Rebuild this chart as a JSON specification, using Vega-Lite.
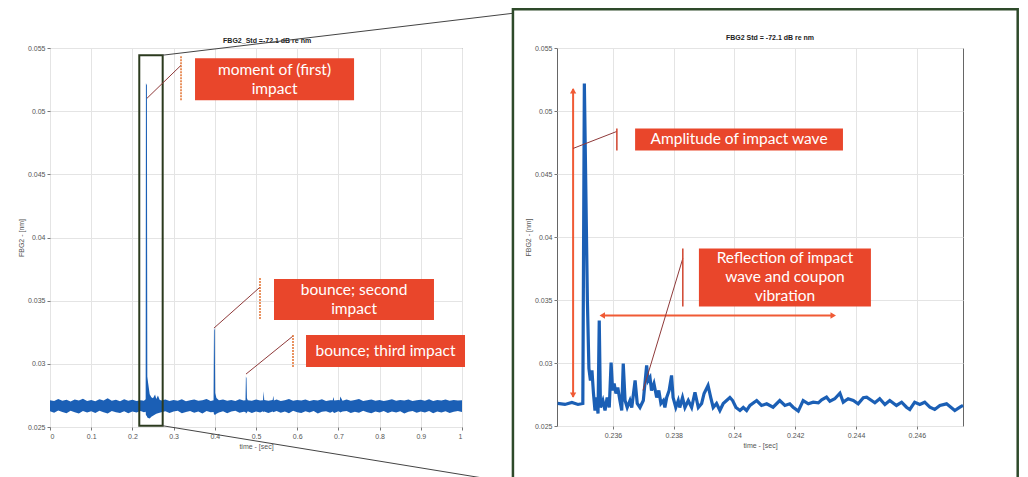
{
  "$schema": "https://vega.github.io/schema/vega-lite/v6.json",
  "background": "white",
  "padding": {"left": 16, "top": 7, "right": 0, "bottom": 0},
  "bounds": "flush",
  "spacing": 95,
  "config": {
    "view": {"stroke": "#666", "strokeWidth": 1},
    "axis": {"labelFont": "Liberation Sans", "labelFontSize": 7, "labelColor": "#555", "titleFont": "Liberation Sans", "titleFontSize": 7, "titleFontWeight": "normal", "titleColor": "#555", "tickColor": "#777", "tickSize": 3, "domain": false, "grid": true, "gridColor": "#e4e4e4", "labelPadding": 2, "titlePadding": 3},
    "text": {"font": "Lato", "fontSize": 15.5, "color": "white", "lineBreak": "\n", "lineHeight": 19}
  },
  "datasets": {
    "left": [
      {"t":0.000,"lo":0.02625,"hi":0.02712},{"t":0.010,"lo":0.02612,"hi":0.02705},{"t":0.020,"lo":0.02630,"hi":0.02722},{"t":0.030,"lo":0.02618,"hi":0.02708},
      {"t":0.040,"lo":0.02608,"hi":0.02716},{"t":0.050,"lo":0.02628,"hi":0.02702},{"t":0.060,"lo":0.02616,"hi":0.02718},{"t":0.070,"lo":0.02606,"hi":0.02709},
      {"t":0.080,"lo":0.02626,"hi":0.02724},{"t":0.090,"lo":0.02615,"hi":0.02706},{"t":0.100,"lo":0.02624,"hi":0.02713},{"t":0.110,"lo":0.02610,"hi":0.02704},
      {"t":0.120,"lo":0.02629,"hi":0.02719},{"t":0.130,"lo":0.02617,"hi":0.02710},{"t":0.140,"lo":0.02607,"hi":0.02728},{"t":0.150,"lo":0.02627,"hi":0.02707},
      {"t":0.160,"lo":0.02616,"hi":0.02715},{"t":0.170,"lo":0.02611,"hi":0.02703},{"t":0.180,"lo":0.02625,"hi":0.02720},{"t":0.190,"lo":0.02609,"hi":0.02708},
      {"t":0.200,"lo":0.02623,"hi":0.02716},{"t":0.210,"lo":0.02614,"hi":0.02705},{"t":0.220,"lo":0.02626,"hi":0.02711},{"t":0.228,"lo":0.02616,"hi":0.02708},
      {"t":0.2322,"lo":0.02620,"hi":0.02720},{"t":0.2328,"lo":0.02595,"hi":0.05220},{"t":0.2352,"lo":0.02585,"hi":0.05205},{"t":0.2362,"lo":0.02575,"hi":0.02900},
      {"t":0.2385,"lo":0.02572,"hi":0.02840},{"t":0.2420,"lo":0.02568,"hi":0.02760},{"t":0.2460,"lo":0.02582,"hi":0.02735},{"t":0.2500,"lo":0.02590,"hi":0.02728},
      {"t":0.2550,"lo":0.02598,"hi":0.02758},{"t":0.2580,"lo":0.02604,"hi":0.02722},{"t":0.2620,"lo":0.02608,"hi":0.02750},{"t":0.2660,"lo":0.02612,"hi":0.02715},
      {"t":0.270,"lo":0.02616,"hi":0.02710},{"t":0.280,"lo":0.02625,"hi":0.02718},{"t":0.290,"lo":0.02610,"hi":0.02706},{"t":0.300,"lo":0.02622,"hi":0.02713},
      {"t":0.310,"lo":0.02628,"hi":0.02708},{"t":0.320,"lo":0.02609,"hi":0.02720},{"t":0.330,"lo":0.02619,"hi":0.02704},{"t":0.340,"lo":0.02626,"hi":0.02711},
      {"t":0.350,"lo":0.02612,"hi":0.02717},{"t":0.360,"lo":0.02623,"hi":0.02707},{"t":0.370,"lo":0.02607,"hi":0.02712},{"t":0.380,"lo":0.02627,"hi":0.02722},
      {"t":0.390,"lo":0.02616,"hi":0.02706},{"t":0.3970,"lo":0.02618,"hi":0.02712},{"t":0.3980,"lo":0.02600,"hi":0.03283},{"t":0.3998,"lo":0.02596,"hi":0.03265},
      {"t":0.4010,"lo":0.02596,"hi":0.02770},{"t":0.4040,"lo":0.02604,"hi":0.02730},{"t":0.410,"lo":0.02615,"hi":0.02711},{"t":0.420,"lo":0.02625,"hi":0.02718},
      {"t":0.430,"lo":0.02609,"hi":0.02708},{"t":0.440,"lo":0.02622,"hi":0.02714},{"t":0.450,"lo":0.02628,"hi":0.02705},{"t":0.460,"lo":0.02613,"hi":0.02719},
      {"t":0.470,"lo":0.02621,"hi":0.02709},{"t":0.4745,"lo":0.02618,"hi":0.02712},{"t":0.4755,"lo":0.02606,"hi":0.02900},{"t":0.4770,"lo":0.02610,"hi":0.02885},
      {"t":0.4780,"lo":0.02614,"hi":0.02728},{"t":0.480,"lo":0.02624,"hi":0.02712},{"t":0.490,"lo":0.02611,"hi":0.02707},{"t":0.500,"lo":0.02622,"hi":0.02717},
      {"t":0.510,"lo":0.02615,"hi":0.02709},{"t":0.5170,"lo":0.02625,"hi":0.02712},{"t":0.5185,"lo":0.02616,"hi":0.02782},{"t":0.5200,"lo":0.02622,"hi":0.02714},
      {"t":0.530,"lo":0.02610,"hi":0.02708},{"t":0.5405,"lo":0.02623,"hi":0.02713},{"t":0.5420,"lo":0.02616,"hi":0.02748},{"t":0.5435,"lo":0.02618,"hi":0.02710},
      {"t":0.550,"lo":0.02626,"hi":0.02718},{"t":0.560,"lo":0.02612,"hi":0.02706},{"t":0.570,"lo":0.02623,"hi":0.02712},{"t":0.580,"lo":0.02608,"hi":0.02721},
      {"t":0.590,"lo":0.02628,"hi":0.02707},{"t":0.600,"lo":0.02616,"hi":0.02714},{"t":0.610,"lo":0.02611,"hi":0.02709},{"t":0.620,"lo":0.02624,"hi":0.02718},
      {"t":0.630,"lo":0.02615,"hi":0.02705},{"t":0.640,"lo":0.02627,"hi":0.02713},{"t":0.650,"lo":0.02607,"hi":0.02710},{"t":0.660,"lo":0.02621,"hi":0.02720},
      {"t":0.670,"lo":0.02625,"hi":0.02706},{"t":0.680,"lo":0.02613,"hi":0.02712},{"t":0.6865,"lo":0.02622,"hi":0.02712},{"t":0.6875,"lo":0.02616,"hi":0.02738},
      {"t":0.690,"lo":0.02611,"hi":0.02709},{"t":0.700,"lo":0.02624,"hi":0.02714},{"t":0.7035,"lo":0.02618,"hi":0.02712},{"t":0.7045,"lo":0.02614,"hi":0.02742},
      {"t":0.710,"lo":0.02622,"hi":0.02708},{"t":0.720,"lo":0.02626,"hi":0.02718},{"t":0.730,"lo":0.02610,"hi":0.02707},{"t":0.740,"lo":0.02621,"hi":0.02713},
      {"t":0.750,"lo":0.02613,"hi":0.02721},{"t":0.760,"lo":0.02628,"hi":0.02706},{"t":0.770,"lo":0.02617,"hi":0.02711},{"t":0.780,"lo":0.02608,"hi":0.02718},
      {"t":0.790,"lo":0.02623,"hi":0.02708},{"t":0.800,"lo":0.02615,"hi":0.02714},{"t":0.810,"lo":0.02626,"hi":0.02705},{"t":0.820,"lo":0.02611,"hi":0.02712},
      {"t":0.830,"lo":0.02622,"hi":0.02720},{"t":0.840,"lo":0.02614,"hi":0.02707},{"t":0.850,"lo":0.02625,"hi":0.02713},{"t":0.860,"lo":0.02607,"hi":0.02709},
      {"t":0.870,"lo":0.02621,"hi":0.02718},{"t":0.880,"lo":0.02627,"hi":0.02706},{"t":0.890,"lo":0.02612,"hi":0.02712},{"t":0.900,"lo":0.02623,"hi":0.02716},
      {"t":0.910,"lo":0.02615,"hi":0.02708},{"t":0.920,"lo":0.02626,"hi":0.02719},{"t":0.930,"lo":0.02609,"hi":0.02706},{"t":0.940,"lo":0.02622,"hi":0.02713},
      {"t":0.950,"lo":0.02614,"hi":0.02709},{"t":0.960,"lo":0.02624,"hi":0.02717},{"t":0.970,"lo":0.02611,"hi":0.02707},{"t":0.980,"lo":0.02621,"hi":0.02714},
      {"t":0.990,"lo":0.02627,"hi":0.02710},{"t":1.000,"lo":0.02618,"hi":0.02712}
    ],
    "right": [
      {"t":0.23418,"v":0.02679},{"t":0.23442,"v":0.02671},{"t":0.23465,"v":0.02687},{"t":0.23485,"v":0.02671},{"t":0.23501,"v":0.02679},
      {"t":0.23506,"v":0.05219},{"t":0.23516,"v":0.03496},{"t":0.23521,"v":0.02957},{"t":0.23526,"v":0.02861},{"t":0.23531,"v":0.02941},
      {"t":0.23536,"v":0.02758},{"t":0.23541,"v":0.02623},{"t":0.23546,"v":0.02726},{"t":0.23551,"v":0.02599},{"t":0.23555,"v":0.03338},
      {"t":0.23559,"v":0.02647},{"t":0.23567,"v":0.02702},{"t":0.23574,"v":0.02623},{"t":0.23581,"v":0.02726},{"t":0.23588,"v":0.02647},
      {"t":0.23594,"v":0.03004},{"t":0.23599,"v":0.02782},{"t":0.23604,"v":0.02837},{"t":0.23610,"v":0.02758},{"t":0.23616,"v":0.02806},
      {"t":0.23623,"v":0.02702},{"t":0.23629,"v":0.02623},{"t":0.23634,"v":0.02996},{"t":0.23640,"v":0.02702},{"t":0.23647,"v":0.02647},
      {"t":0.23656,"v":0.02702},{"t":0.23662,"v":0.02647},{"t":0.23673,"v":0.02861},{"t":0.23680,"v":0.02679},{"t":0.23689,"v":0.02647},
      {"t":0.23700,"v":0.02702},{"t":0.23711,"v":0.02980},{"t":0.23716,"v":0.02861},{"t":0.23722,"v":0.02885},{"t":0.23727,"v":0.02782},
      {"t":0.23735,"v":0.02837},{"t":0.23744,"v":0.02726},{"t":0.23751,"v":0.02782},{"t":0.23758,"v":0.02679},{"t":0.23766,"v":0.02702},
      {"t":0.23771,"v":0.02647},{"t":0.23777,"v":0.02726},{"t":0.23785,"v":0.02782},{"t":0.23793,"v":0.02901},{"t":0.23798,"v":0.02726},
      {"t":0.23807,"v":0.02647},{"t":0.23815,"v":0.02702},{"t":0.23820,"v":0.02647},{"t":0.23829,"v":0.02726},{"t":0.23837,"v":0.02647},
      {"t":0.23848,"v":0.02702},{"t":0.23859,"v":0.02647},{"t":0.23870,"v":0.02768},{"t":0.23881,"v":0.02647},{"t":0.23892,"v":0.02679},
      {"t":0.23900,"v":0.02758},{"t":0.23913,"v":0.02822},{"t":0.23922,"v":0.02726},{"t":0.23930,"v":0.02647},{"t":0.23941,"v":0.02679},
      {"t":0.23952,"v":0.02623},{"t":0.23963,"v":0.02679},{"t":0.23974,"v":0.02702},{"t":0.23985,"v":0.02726},{"t":0.23994,"v":0.02702},
      {"t":0.24005,"v":0.02647},{"t":0.24018,"v":0.02623},{"t":0.24029,"v":0.02647},{"t":0.24040,"v":0.02623},{"t":0.24051,"v":0.02663},
      {"t":0.24073,"v":0.02702},{"t":0.24089,"v":0.02663},{"t":0.24106,"v":0.02676},{"t":0.24127,"v":0.02649},{"t":0.24149,"v":0.02702},
      {"t":0.24166,"v":0.02663},{"t":0.24182,"v":0.02676},{"t":0.24193,"v":0.02649},{"t":0.24210,"v":0.02618},{"t":0.24226,"v":0.02702},
      {"t":0.24243,"v":0.02676},{"t":0.24259,"v":0.02689},{"t":0.24276,"v":0.02684},{"t":0.24287,"v":0.02708},{"t":0.24303,"v":0.02729},
      {"t":0.24314,"v":0.02697},{"t":0.24330,"v":0.02716},{"t":0.24347,"v":0.02760},{"t":0.24358,"v":0.02689},{"t":0.24374,"v":0.02716},
      {"t":0.24391,"v":0.02702},{"t":0.24407,"v":0.02676},{"t":0.24424,"v":0.02724},{"t":0.24435,"v":0.02729},{"t":0.24451,"v":0.02702},
      {"t":0.24462,"v":0.02684},{"t":0.24478,"v":0.02716},{"t":0.24495,"v":0.02671},{"t":0.24511,"v":0.02702},{"t":0.24533,"v":0.02663},
      {"t":0.24550,"v":0.02689},{"t":0.24566,"v":0.02649},{"t":0.24577,"v":0.02631},{"t":0.24593,"v":0.02689},{"t":0.24610,"v":0.02671},
      {"t":0.24626,"v":0.02689},{"t":0.24643,"v":0.02649},{"t":0.24659,"v":0.02631},{"t":0.24676,"v":0.02663},{"t":0.24698,"v":0.02676},
      {"t":0.24714,"v":0.02645},{"t":0.24725,"v":0.02623},{"t":0.24742,"v":0.02649},{"t":0.24752,"v":0.02663}
    ],
    "leftNotes": [
      {"t1":0.352,"t2":0.738,"v1":0.05419,"v2":0.05087,"tc":0.545,"vc":0.05326,"label":"moment of (first)\nimpact"},
      {"t1":0.5437,"t2":0.932,"v1":0.03671,"v2":0.03346,"tc":0.738,"vc":0.03585,"label":"bounce; second\nimpact"},
      {"t1":0.6214,"t2":1.0073,"v1":0.03228,"v2":0.02975,"tc":0.8143,"vc":0.03101,"label":"bounce; third impact"}
    ],
    "leftPointers": [
      {"ta":0.2354,"va":0.05102,"tb":0.318,"vb":0.05363,"vt":0.05435,"vbot":0.05079},
      {"ta":0.398,"va":0.03283,"tb":0.5097,"vb":0.03607,"vt":0.03679,"vbot":0.03346},
      {"ta":0.4757,"va":0.02919,"tb":0.5898,"vb":0.0322,"vt":0.03228,"vbot":0.02975}
    ],
    "leftZoomLines": [
      {"ta":0.2735,"va":0.05443,"tb":1.124,"vb":0.05775},
      {"ta":0.2735,"va":0.0251,"tb":1.124,"vb":0.02057}
    ],
    "rightNotes": [
      {"t1":0.23673,"t2":0.24357,"v1":0.04862,"v2":0.04687,"tc":0.24015,"vc":0.04775,"label":"Amplitude of impact wave"},
      {"t1":0.23883,"t2":0.24449,"v1":0.03909,"v2":0.03449,"tc":0.24166,"vc":0.03832,"label":"Reflection of impact\nwave and coupon\nvibration"}
    ],
    "rightPointers": [
      {"ta":0.23469,"va":0.04703,"tb":0.23613,"vb":0.04838,"vt":0.04862,"vbot":0.04687},
      {"ta":0.23699,"va":0.02782,"tb":0.2383,"vb":0.0383,"vt":0.03909,"vbot":0.03449}
    ]
  },
  "hconcat": [
    {
      "width": 412,
      "height": 379,
      "layer": [
        {
          "data": {"name": "left"},
          "mark": {"type": "area", "color": "#1b5fb5", "interpolate": "linear"},
          "encoding": {
            "x": {"field": "t", "type": "quantitative", "scale": {"domain": [0, 1], "nice": false}, "axis": {"values": [0, 0.1, 0.2, 0.3, 0.4, 0.5, 0.6, 0.7, 0.8, 0.9, 1], "format": "~g", "title": "time - [sec]"}},
            "y": {"field": "lo", "type": "quantitative", "scale": {"domain": [0.025, 0.055], "nice": false, "zero": false}, "axis": {"values": [0.025, 0.03, 0.035, 0.04, 0.045, 0.05, 0.055], "format": "~g", "title": "FBG2 - [nm]"}},
            "y2": {"field": "hi"}
          }
        },
        {
          "data": {"values": [{"title": "FBG2_Std =-72.1 dB re nm"}]},
          "mark": {"type": "text", "font": "Liberation Sans", "fontSize": 7, "fontWeight": "bold", "color": "#222", "align": "center", "baseline": "middle"},
          "encoding": {
            "x": {"datum": 0.527, "type": "quantitative", "scale": {"domain": [0, 1], "nice": false}},
            "y": {"datum": 0.05553, "type": "quantitative", "scale": {"domain": [0.025, 0.055], "nice": false, "zero": false}},
            "text": {"field": "title"}
          }
        },
        {
          "data": {"values": [{}]},
          "mark": {"type": "rect", "fill": "transparent", "stroke": "#2b3a1e", "strokeWidth": 2},
          "encoding": {
            "x": {"datum": 0.2167, "type": "quantitative", "scale": {"domain": [0, 1], "nice": false}},
            "x2": {"datum": 0.2735},
            "y": {"datum": 0.0251, "type": "quantitative", "scale": {"domain": [0.025, 0.055], "nice": false, "zero": false}},
            "y2": {"datum": 0.05443}
          }
        },
        {
          "data": {"name": "leftZoomLines"},
          "mark": {"type": "rule", "color": "#444", "strokeWidth": 1},
          "encoding": {
            "x": {"field": "ta", "type": "quantitative", "scale": {"domain": [0, 1], "nice": false}},
            "x2": {"field": "tb"},
            "y": {"field": "va", "type": "quantitative", "scale": {"domain": [0.025, 0.055], "nice": false, "zero": false}},
            "y2": {"field": "vb"}
          }
        },
        {
          "data": {"name": "leftPointers"},
          "mark": {"type": "rule", "color": "#8f3a3a", "strokeWidth": 1},
          "encoding": {
            "x": {"field": "ta", "type": "quantitative", "scale": {"domain": [0, 1], "nice": false}},
            "x2": {"field": "tb"},
            "y": {"field": "va", "type": "quantitative", "scale": {"domain": [0.025, 0.055], "nice": false, "zero": false}},
            "y2": {"field": "vb"}
          }
        },
        {
          "data": {"name": "leftPointers"},
          "mark": {"type": "rule", "color": "#e2702e", "strokeWidth": 1.5, "strokeDash": [2, 1]},
          "encoding": {
            "x": {"field": "tb", "type": "quantitative", "scale": {"domain": [0, 1], "nice": false}},
            "y": {"field": "vt", "type": "quantitative", "scale": {"domain": [0.025, 0.055], "nice": false, "zero": false}},
            "y2": {"field": "vbot"}
          }
        },
        {
          "data": {"name": "leftNotes"},
          "mark": {"type": "rect", "color": "#e9462b", "opacity": 1},
          "encoding": {
            "x": {"field": "t1", "type": "quantitative", "scale": {"domain": [0, 1], "nice": false}},
            "x2": {"field": "t2"},
            "y": {"field": "v1", "type": "quantitative", "scale": {"domain": [0.025, 0.055], "nice": false, "zero": false}},
            "y2": {"field": "v2"}
          }
        },
        {
          "data": {"name": "leftNotes"},
          "mark": {"type": "text", "align": "center", "baseline": "middle"},
          "encoding": {
            "x": {"field": "tc", "type": "quantitative", "scale": {"domain": [0, 1], "nice": false}},
            "y": {"field": "vc", "type": "quantitative", "scale": {"domain": [0.025, 0.055], "nice": false, "zero": false}},
            "text": {"field": "label"}
          }
        }
      ]
    },
    {
      "width": 406,
      "height": 378,
      "layer": [
        {
          "data": {"name": "right"},
          "mark": {"type": "line", "color": "#1b5fb5", "strokeWidth": 3.2, "interpolate": "linear"},
          "encoding": {
            "x": {"field": "t", "type": "quantitative", "scale": {"domain": [0.23416, 0.24752], "nice": false, "zero": false}, "axis": {"values": [0.236, 0.238, 0.24, 0.242, 0.244, 0.246], "format": "~g", "title": "time - [sec]"}},
            "y": {"field": "v", "type": "quantitative", "scale": {"domain": [0.025, 0.055], "nice": false, "zero": false}, "axis": {"values": [0.025, 0.03, 0.035, 0.04, 0.045, 0.05, 0.055], "format": "~g", "title": "FBG2 - [nm]"}}
          }
        },
        {
          "data": {"values": [{"title": "FBG2 Std = -72.1 dB re nm"}]},
          "mark": {"type": "text", "font": "Liberation Sans", "fontSize": 7, "fontWeight": "bold", "color": "#222", "align": "center", "baseline": "middle"},
          "encoding": {
            "x": {"datum": 0.24117, "type": "quantitative", "scale": {"domain": [0.23416, 0.24752], "nice": false, "zero": false}},
            "y": {"datum": 0.05577, "type": "quantitative", "scale": {"domain": [0.025, 0.055], "nice": false, "zero": false}},
            "text": {"field": "title"}
          }
        },
        {
          "data": {"values": [{}]},
          "mark": {"type": "rect", "fill": "transparent", "stroke": "#2e4a2a", "strokeWidth": 2.5},
          "encoding": {
            "x": {"datum": 0.23271, "type": "quantitative", "scale": {"domain": [0.23416, 0.24752], "nice": false, "zero": false}},
            "x2": {"datum": 0.24932},
            "y": {"datum": 0.05807, "type": "quantitative", "scale": {"domain": [0.025, 0.055], "nice": false, "zero": false}},
            "y2": {"datum": 0.02067}
          }
        },
        {
          "data": {"values": [{}]},
          "mark": {"type": "rule", "color": "#f05a35", "strokeWidth": 2},
          "encoding": {
            "x": {"datum": 0.23469, "type": "quantitative", "scale": {"domain": [0.23416, 0.24752], "nice": false, "zero": false}},
            "y": {"datum": 0.05175, "type": "quantitative", "scale": {"domain": [0.025, 0.055], "nice": false, "zero": false}},
            "y2": {"datum": 0.0273}
          }
        },
        {
          "data": {"values": [{}]},
          "mark": {"type": "point", "shape": "triangle-up", "filled": true, "color": "#f05a35", "size": 40, "opacity": 1},
          "encoding": {
            "x": {"datum": 0.23469, "type": "quantitative", "scale": {"domain": [0.23416, 0.24752], "nice": false, "zero": false}},
            "y": {"datum": 0.0516, "type": "quantitative", "scale": {"domain": [0.025, 0.055], "nice": false, "zero": false}}
          }
        },
        {
          "data": {"values": [{}]},
          "mark": {"type": "point", "shape": "triangle-down", "filled": true, "color": "#f05a35", "size": 40, "opacity": 1},
          "encoding": {
            "x": {"datum": 0.23469, "type": "quantitative", "scale": {"domain": [0.23416, 0.24752], "nice": false, "zero": false}},
            "y": {"datum": 0.02745, "type": "quantitative", "scale": {"domain": [0.025, 0.055], "nice": false, "zero": false}}
          }
        },
        {
          "data": {"values": [{}]},
          "mark": {"type": "rule", "color": "#f05a35", "strokeWidth": 2},
          "encoding": {
            "x": {"datum": 0.23565, "type": "quantitative", "scale": {"domain": [0.23416, 0.24752], "nice": false, "zero": false}},
            "x2": {"datum": 0.24325},
            "y": {"datum": 0.03377, "type": "quantitative", "scale": {"domain": [0.025, 0.055], "nice": false, "zero": false}}
          }
        },
        {
          "data": {"values": [{}]},
          "mark": {"type": "point", "shape": "triangle-left", "filled": true, "color": "#f05a35", "size": 40, "opacity": 1},
          "encoding": {
            "x": {"datum": 0.23565, "type": "quantitative", "scale": {"domain": [0.23416, 0.24752], "nice": false, "zero": false}},
            "y": {"datum": 0.03377, "type": "quantitative", "scale": {"domain": [0.025, 0.055], "nice": false, "zero": false}}
          }
        },
        {
          "data": {"values": [{}]},
          "mark": {"type": "point", "shape": "triangle-right", "filled": true, "color": "#f05a35", "size": 40, "opacity": 1},
          "encoding": {
            "x": {"datum": 0.24325, "type": "quantitative", "scale": {"domain": [0.23416, 0.24752], "nice": false, "zero": false}},
            "y": {"datum": 0.03377, "type": "quantitative", "scale": {"domain": [0.025, 0.055], "nice": false, "zero": false}}
          }
        },
        {
          "data": {"name": "rightPointers"},
          "mark": {"type": "rule", "color": "#8f3a3a", "strokeWidth": 1},
          "encoding": {
            "x": {"field": "ta", "type": "quantitative", "scale": {"domain": [0.23416, 0.24752], "nice": false, "zero": false}},
            "x2": {"field": "tb"},
            "y": {"field": "va", "type": "quantitative", "scale": {"domain": [0.025, 0.055], "nice": false, "zero": false}},
            "y2": {"field": "vb"}
          }
        },
        {
          "data": {"name": "rightPointers"},
          "mark": {"type": "rule", "color": "#d0442e", "strokeWidth": 1.5},
          "encoding": {
            "x": {"field": "tb", "type": "quantitative", "scale": {"domain": [0.23416, 0.24752], "nice": false, "zero": false}},
            "y": {"field": "vt", "type": "quantitative", "scale": {"domain": [0.025, 0.055], "nice": false, "zero": false}},
            "y2": {"field": "vbot"}
          }
        },
        {
          "data": {"name": "rightNotes"},
          "mark": {"type": "rect", "color": "#e9462b", "opacity": 1},
          "encoding": {
            "x": {"field": "t1", "type": "quantitative", "scale": {"domain": [0.23416, 0.24752], "nice": false, "zero": false}},
            "x2": {"field": "t2"},
            "y": {"field": "v1", "type": "quantitative", "scale": {"domain": [0.025, 0.055], "nice": false, "zero": false}},
            "y2": {"field": "v2"}
          }
        },
        {
          "data": {"name": "rightNotes"},
          "mark": {"type": "text", "align": "center", "baseline": "middle"},
          "encoding": {
            "x": {"field": "tc", "type": "quantitative", "scale": {"domain": [0.23416, 0.24752], "nice": false, "zero": false}},
            "y": {"field": "vc", "type": "quantitative", "scale": {"domain": [0.025, 0.055], "nice": false, "zero": false}},
            "text": {"field": "label"}
          }
        }
      ]
    }
  ]
}
